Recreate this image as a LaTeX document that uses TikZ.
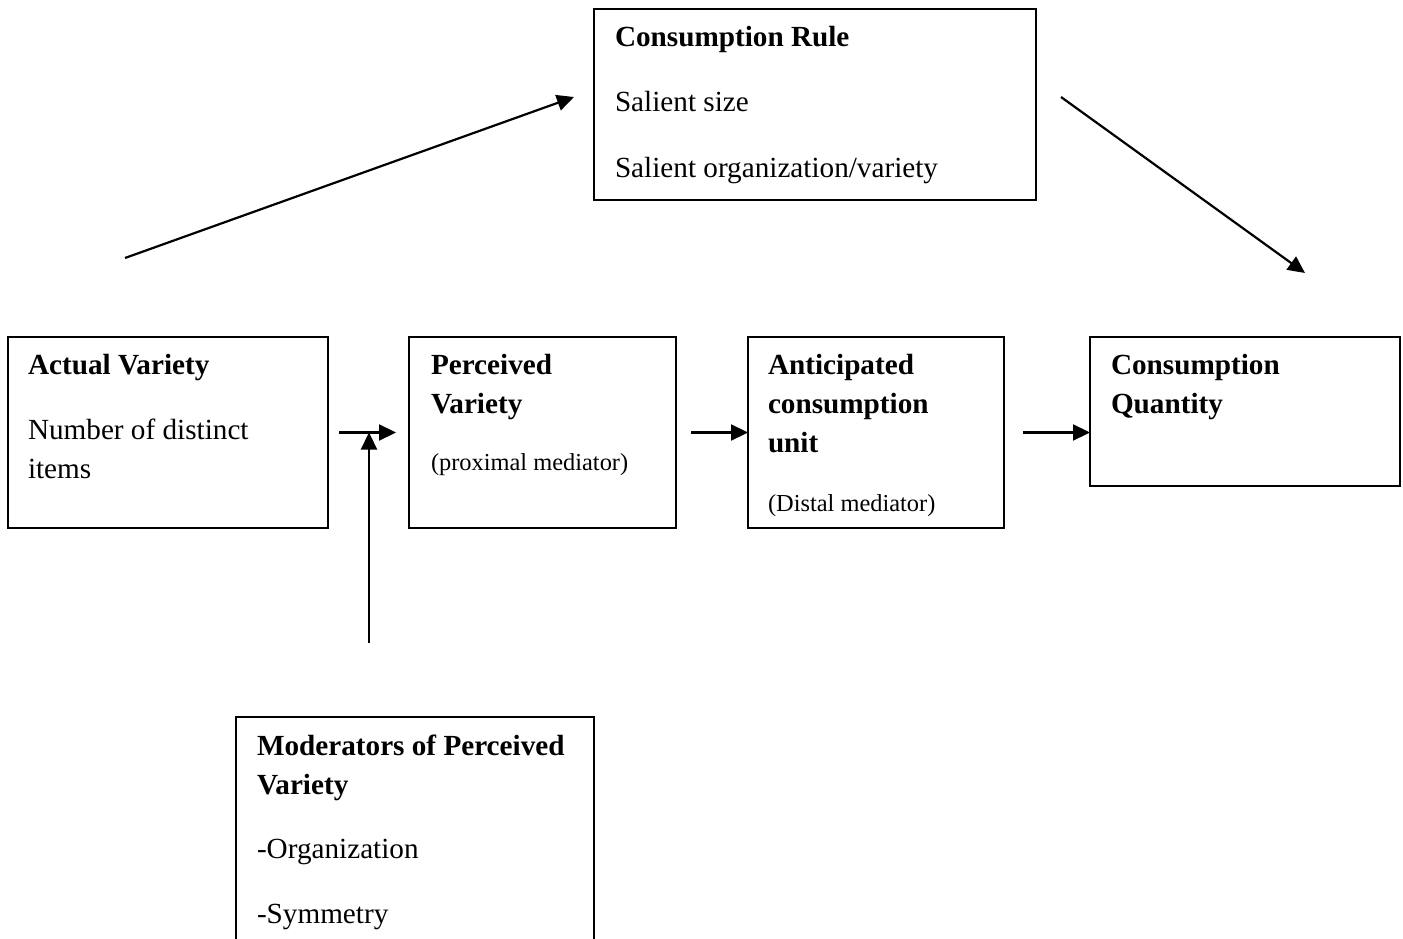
\documentclass[tikz,border=0pt]{standalone}
\usepackage{fontspec}
\setmainfont{Liberation Serif}
\usetikzlibrary{arrows.meta}
\begin{document}
\begin{tikzpicture}[x=1pt,y=-1pt,
  box/.style={draw=black, line width=2pt, rectangle, inner sep=0pt, outer sep=0pt, anchor=north west},
  txt/.style={inner sep=0pt, outer sep=0pt, anchor=base west, font=\fontsize{29.2pt}{34pt}\selectfont},
  hd/.style={txt, font=\fontsize{29.2pt}{34pt}\selectfont\bfseries},
  sm/.style={txt, font=\fontsize{24.4pt}{28pt}\selectfont},
  arr/.style={draw=black, line width=2.2pt, -{Triangle[length=17pt,width=16pt]}}]
\useasboundingbox (0,0) rectangle (1403,939);
\clip (0,0) rectangle (1403,939);
\fill[white] (0,0) rectangle (1403,939);

% boxes
\node[box, minimum width=442pt, minimum height=191pt] (cr) at (594,9) {};
\node[box, minimum width=320pt, minimum height=191pt] (av) at (8,337) {};
\node[box, minimum width=267pt, minimum height=191pt] (pv) at (409,337) {};
\node[box, minimum width=256pt, minimum height=191pt] (ac) at (748,337) {};
\node[box, minimum width=310pt, minimum height=149pt] (cq) at (1090,337) {};
\node[box, minimum width=358pt, minimum height=300pt] (mod) at (236,717) {};

% texts
\node[hd] (cr1) at (615,47) {Consumption Rule};
\node[txt] (cr2) at (615,112) {Salient size};
\node[txt] (cr3) at (615,177) {Salient organization/variety};

\node[hd] (av1) at (28,374) {Actual Variety};
\node[txt] (av2) at (28,439) {Number of distinct};
\node[txt] (av3) at (28,478) {items};

\node[hd] (pv1) at (431,374) {Perceived};
\node[hd] (pv2) at (431,413) {Variety};
\node[sm] (pv3) at (431,470) {(proximal mediator)};

\node[hd] (ac1) at (768,374) {Anticipated};
\node[hd] (ac2) at (768,413) {consumption};
\node[hd] (ac3) at (768,452) {unit};
\node[sm] (ac4) at (768,511) {(Distal mediator)};

\node[hd] (cq1) at (1111,374) {Consumption};
\node[hd] (cq2) at (1111,413) {Quantity};

\node[hd] (mo1) at (257,755) {Moderators of Perceived};
\node[hd] (mo2) at (257,794) {Variety};
\node[txt] (mo3) at (257,858) {-Organization};
\node[txt] (mo4) at (257,923) {-Symmetry};

% connectors
\coordinate (a1s) at (125,258);
\coordinate (a1e) at (574,97);
\coordinate (a2s) at (1061,97);
\coordinate (a2e) at (1305,273);
\coordinate (j) at (369,432.5);
\coordinate (ms) at (369,643);

\draw[arr] (a1s) -- (a1e);
\draw[arr] (a2s) -- (a2e);
\draw[arr] ([xshift=11pt]av.east) -- ([xshift=-13pt]pv.west);
\draw[arr] ([xshift=15pt]pv.east) -- (ac.west);
\draw[arr] ([xshift=19pt]ac.east) -- (cq.west |- ac.east);
\draw[arr] (ms) -- (j);
\end{tikzpicture}
\end{document}
